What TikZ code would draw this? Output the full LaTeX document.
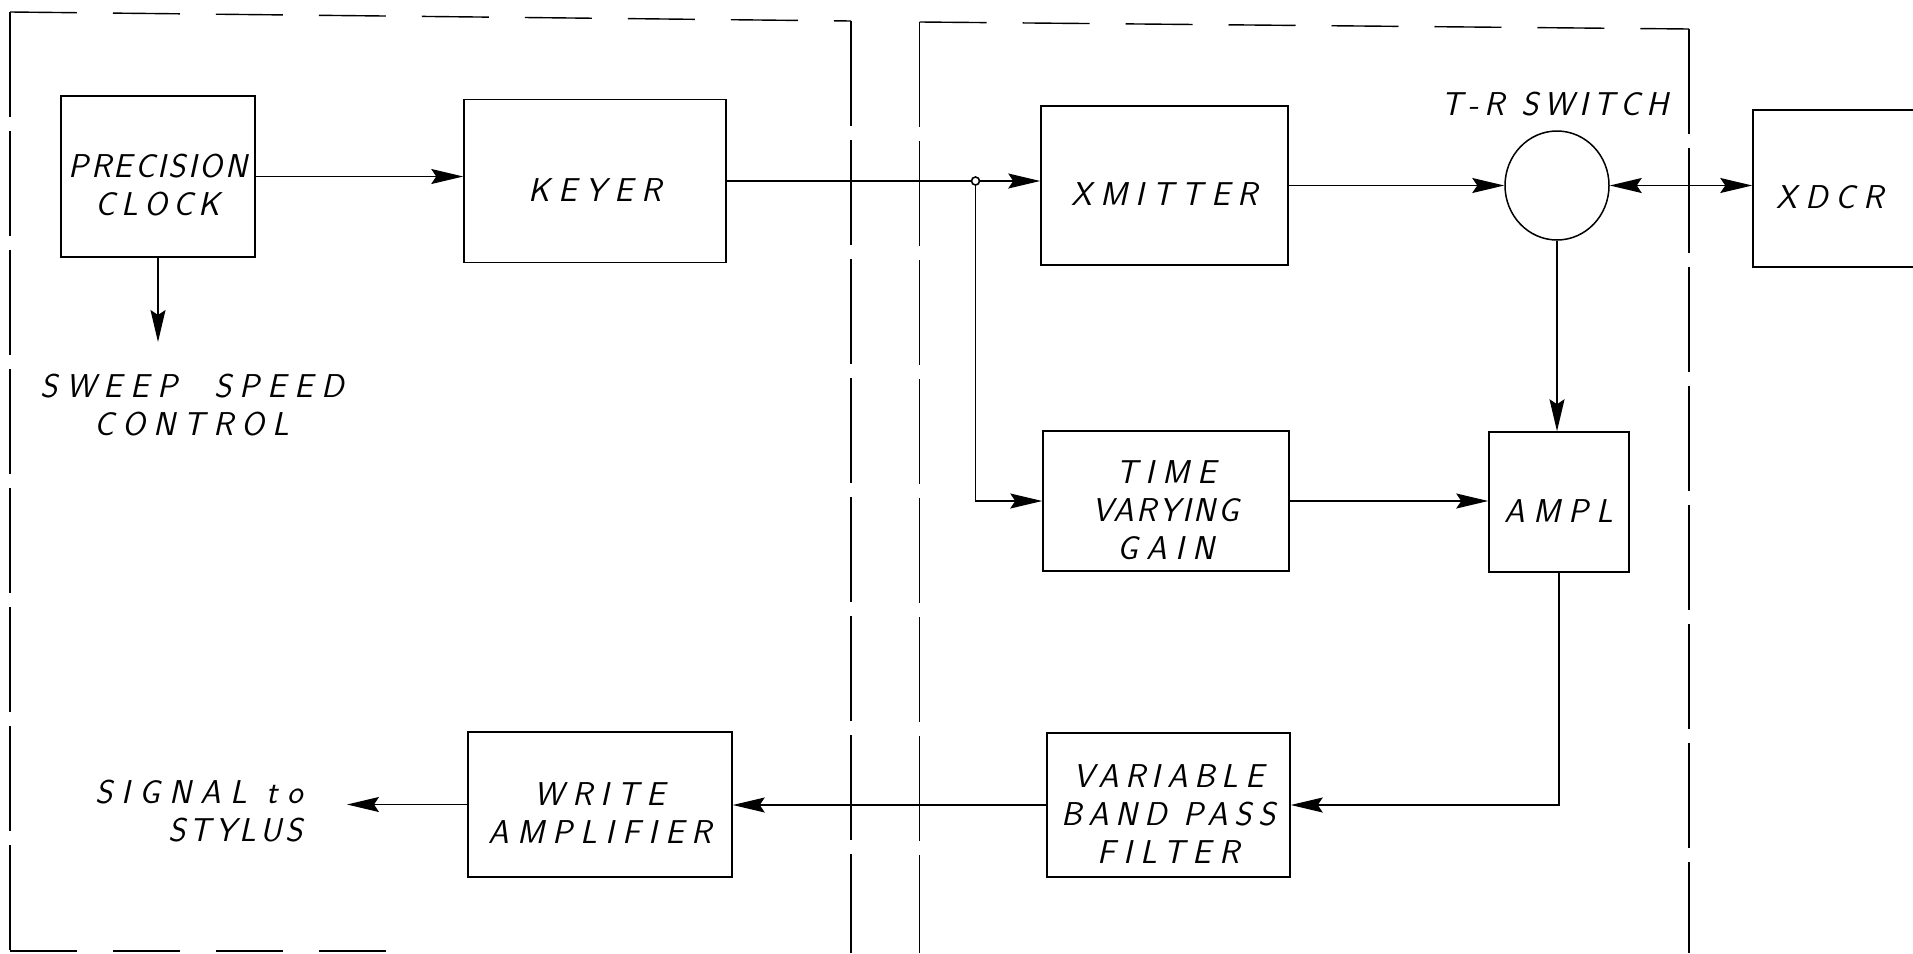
\documentclass[tikz,border=0pt]{standalone}
\usepackage{fontspec}
\usetikzlibrary{arrows.meta,shapes.geometric}
\newfontfamily\handfont{Latin Modern Sans}[LetterSpace=25,FakeSlant=0.22]
\newcommand{\handtext}{\handfont\fontsize{33}{38}\selectfont}
\tikzset{
  box/.style={draw, line width=1.5pt, rectangle, inner sep=0pt},
  lbl/.style={inner sep=0pt, align=center, font=\handtext},
  tx/.style={label={[lbl,yshift=-9pt]center:#1}},
  sig/.style={-{Stealth[length=32pt,width=15pt,inset=5pt]}, line width=1.4pt},
  bisig/.style={{Stealth[length=32pt,width=15pt,inset=5pt]}-{Stealth[length=32pt,width=15pt,inset=5pt]}, line width=1.4pt},
  wire/.style={line width=1.4pt},
  frameh/.style={line width=1.4pt, dash pattern=on 67pt off 36pt},
  framev/.style={line width=1.4pt, dash pattern=on 105pt off 14pt},
  jdot/.style={circle, draw, fill=white, line width=1.6pt, minimum size=8pt, inner sep=0pt}
}
\begin{document}
\begin{tikzpicture}[x=1pt,y=-1pt]
\fill[white] (0,0) rectangle (1913,953);
\useasboundingbox (0,0) rectangle (1913,953);
% frames
\draw[frameh] (10,12) -- (851,21);
\draw[framev] (10,12) -- (10,951);
\draw[framev] (851,21) -- (851,953);
\draw[frameh] (10,951) -- (402,951);
\draw[frameh] (919.5,22) -- (1689,29);
\draw[framev] (919.5,22) -- (919.5,953);
\draw[framev] (1689,29) -- (1689,953);
% blocks
\node[box, minimum width=194pt, minimum height=161pt,
  tx={\addfontfeature{LetterSpace=8}PRECISION\\\addfontfeature{LetterSpace=18}CLOCK}] (clock) at (158,176.5) {};
\node[box, minimum width=262pt, minimum height=163pt, tx={KEYER}] (keyer) at (595,181) {};
\node[box, minimum width=247pt, minimum height=159pt, tx={XMITTER}] (xmit) at (1164.5,185.5) {};
\node[draw, ellipse, line width=1.5pt, minimum width=104pt, minimum height=109pt, inner sep=0pt] (sw) at (1557,185.5) {};
\node[lbl] (swl) at (1555,104) {\addfontfeature{LetterSpace=18}T-R SWITCH};
\node[box, minimum width=207pt, minimum height=157pt] (xdcr) at (1856.5,188.5) {};
\node[lbl] (xdcrl) at (1830,197) {XDCR};
\node[box, minimum width=246pt, minimum height=140pt,
  tx={TIME\\\addfontfeature{LetterSpace=8}VARYING\\GAIN}] (tvg) at (1166,501) {};
\node[box, minimum width=140pt, minimum height=140pt, tx={AMPL}] (ampl) at (1559,502) {};
\node[box, minimum width=243pt, minimum height=144pt,
  tx={\addfontfeature{LetterSpace=20}VARIABLE\\\addfontfeature{LetterSpace=20}BAND PASS\\FILTER}] (vbpf) at (1168.5,805) {};
\node[box, minimum width=264pt, minimum height=145pt, tx={WRITE\\AMPLIFIER}] (write) at (600,804.5) {};
\node[lbl] (sweep) at (192,405) {SWEEP~~SPEED\\CONTROL};
\node[lbl, align=right, anchor=east] (stylus) at (303,811) {\addfontfeature{LetterSpace=28}SIGNAL~to\\\addfontfeature{LetterSpace=12}STYLUS~};
\node[jdot] (j) at (975.5,181) {};
\coordinate (sweepend) at (158,342);
\coordinate (stylusend) at (347,804.5);
% connectors
\draw[sig] (clock.east) -- (clock.east -| keyer.west);
\draw[sig] (clock.south) -- (sweepend);
\draw[wire] (keyer.east) -- (j.west);
\draw[sig] (j.east) -- (j.east -| xmit.west);
\draw[sig] (j.south) |- (tvg.west);
\draw[sig] (xmit.east |- sw.west) -- (sw.west);
\draw[bisig] (sw.east) -- (sw.east -| xdcr.west);
\draw[sig] (sw.south) -- (sw.south |- ampl.north);
\draw[sig] (tvg.east) -- (tvg.east -| ampl.west);
\draw[sig] (ampl.south) |- (vbpf.east);
\draw[sig] (vbpf.west) -- (vbpf.west -| write.east);
\draw[sig] (write.west) -- (stylusend);
\end{tikzpicture}
\end{document}
